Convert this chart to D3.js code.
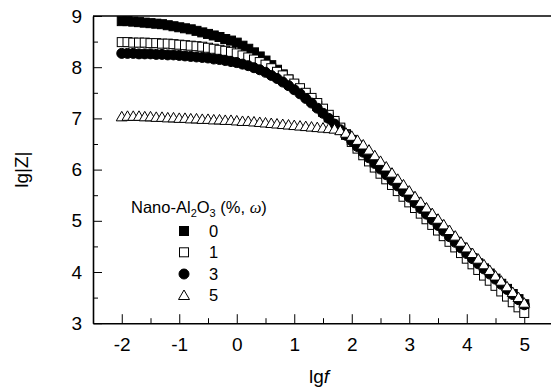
<!DOCTYPE html>
<html>
<head>
<meta charset="utf-8">
<script src="https://cdn.jsdelivr.net/npm/d3@7"></script>
<style>
  body { margin: 0; background: #fff; }
  text { font-family: "Liberation Sans", Arial, sans-serif; fill: #000; }
</style>
</head>
<body>
<div id="chart"></div>
<script>
"use strict";

// lg f values, shared by every series
const lgf = [
  -2.0, -1.9, -1.8, -1.7, -1.6, -1.5, -1.4, -1.3, -1.2, -1.1,
  -1.0, -0.9, -0.8, -0.7, -0.6, -0.5, -0.4, -0.3, -0.2, -0.1,
  0.0, 0.1, 0.2, 0.3, 0.4, 0.5, 0.6, 0.7, 0.8, 0.9,
  1.0, 1.1, 1.2, 1.3, 1.4, 1.5, 1.6, 1.7, 1.8, 1.9,
  2.0, 2.1, 2.2, 2.3, 2.4, 2.5, 2.6, 2.7, 2.8, 2.9,
  3.0, 3.1, 3.2, 3.3, 3.4, 3.5, 3.6, 3.7, 3.8, 3.9,
  4.0, 4.1, 4.2, 4.3, 4.4, 4.5, 4.6, 4.7, 4.8, 4.9,
  5.0
];

// lg|Z| for 0 % nano-Al2O3
const lgZ0 = [
  8.90, 8.90, 8.89, 8.88, 8.87, 8.86, 8.85, 8.84, 8.82, 8.80,
  8.78, 8.76, 8.74, 8.71, 8.68, 8.65, 8.62, 8.59, 8.55, 8.52,
  8.48, 8.42, 8.36, 8.29, 8.21, 8.13, 8.04, 7.95, 7.86, 7.76,
  7.66, 7.56, 7.46, 7.35, 7.24, 7.13, 7.02, 6.91, 6.80, 6.69,
  6.58, 6.47, 6.35, 6.24, 6.13, 6.02, 5.91, 5.80, 5.69, 5.58,
  5.47, 5.36, 5.25, 5.14, 5.03, 4.92, 4.81, 4.70, 4.59, 4.48,
  4.37, 4.27, 4.17, 4.07, 3.97, 3.87, 3.77, 3.67, 3.57, 3.47,
  3.37
];

// 1 %
const lgZ1 = [
  8.49, 8.49, 8.48, 8.48, 8.48, 8.47, 8.47, 8.46, 8.46, 8.45,
  8.44, 8.43, 8.42, 8.41, 8.40, 8.38, 8.36, 8.34, 8.32, 8.30,
  8.27, 8.23, 8.19, 8.15, 8.10, 8.05, 7.98, 7.91, 7.84, 7.76,
  7.68, 7.59, 7.50, 7.40, 7.30, 7.19, 7.07, 6.95, 6.82, 6.68,
  6.54, 6.41, 6.28, 6.16, 6.04, 5.92, 5.81, 5.70, 5.58, 5.47,
  5.36, 5.25, 5.14, 5.03, 4.92, 4.81, 4.70, 4.59, 4.48, 4.37,
  4.26, 4.15, 4.04, 3.93, 3.83, 3.73, 3.62, 3.52, 3.41, 3.31,
  3.20
];

// 3 %
const lgZ3 = [
  8.27, 8.27, 8.27, 8.26, 8.26, 8.26, 8.25, 8.25, 8.24, 8.24,
  8.23, 8.22, 8.21, 8.20, 8.19, 8.18, 8.16, 8.15, 8.13, 8.11,
  8.09, 8.06, 8.03, 7.99, 7.95, 7.90, 7.84, 7.78, 7.71, 7.64,
  7.56, 7.48, 7.39, 7.30, 7.20, 7.10, 7.00, 6.89, 6.78, 6.67,
  6.56, 6.45, 6.34, 6.23, 6.12, 6.01, 5.90, 5.79, 5.68, 5.57,
  5.46, 5.35, 5.24, 5.13, 5.02, 4.91, 4.80, 4.69, 4.58, 4.47,
  4.36, 4.26, 4.16, 4.06, 3.96, 3.86, 3.76, 3.66, 3.56, 3.46,
  3.36
];

// 5 %
const lgZ5 = [
  7.04, 7.05, 7.05, 7.05, 7.04, 7.04, 7.03, 7.03, 7.02, 7.02,
  7.01, 7.01, 7.00, 7.00, 6.99, 6.99, 6.98, 6.98, 6.97, 6.97,
  6.96, 6.95, 6.95, 6.94, 6.93, 6.92, 6.91, 6.90, 6.89, 6.88,
  6.87, 6.86, 6.85, 6.84, 6.83, 6.82, 6.81, 6.80, 6.77, 6.72,
  6.66, 6.58, 6.49, 6.39, 6.28, 6.17, 6.06, 5.94, 5.82, 5.71,
  5.59, 5.48, 5.37, 5.26, 5.15, 5.04, 4.93, 4.82, 4.71, 4.59,
  4.48, 4.37, 4.26, 4.15, 4.04, 3.93, 3.83, 3.72, 3.61, 3.51,
  3.40
];

const seriesNames = ["0", "1", "3", "5"];
const seriesValues = [lgZ0, lgZ1, lgZ3, lgZ5];
const seriesMarks = ["filledSquare", "openSquare", "filledCircle", "openTriangle"];

const xTicks = [-2, -1, 0, 1, 2, 3, 4, 5];
const xMinorTicks = [-1.5, -0.5, 0.5, 1.5, 2.5, 3.5, 4.5];
const yTicks = [3, 4, 5, 6, 7, 8, 9];
const yMinorTicks = [3.5, 4.5, 5.5, 6.5, 7.5, 8.5];

const svgWidth = 551;
const svgHeight = 391;
const plotLeft = 93;
const plotRight = 553;
const plotTop = 16;
const plotBottom = 323.2;

const svg = d3.select("#chart")
  .append("svg")
  .attr("width", svgWidth)
  .attr("height", svgHeight)
;

const xScale = d3.scaleLinear().domain([-2.5, 5.5]).range([plotLeft, plotRight]);
const yScale = d3.scaleLinear().domain([3, 9]).range([plotBottom, plotTop]);

// plain hyphen for negatives, like the original
const plainFormat = d => String(d);

// minor ticks first, major axes on top
svg.append("g")
  .attr("transform", `translate(0, ${plotBottom})`)
  .call(d3.axisBottom(xScale).tickValues(xMinorTicks).tickSizeInner(-5).tickSizeOuter(0).tickFormat(""))
  .call(g => g.select(".domain").remove())
;
svg.append("g")
  .attr("transform", `translate(${plotLeft}, 0)`)
  .call(d3.axisLeft(yScale).tickValues(yMinorTicks).tickSizeInner(-5).tickSizeOuter(0).tickFormat(""))
  .call(g => g.select(".domain").remove())
;

svg.append("g")
  .attr("transform", `translate(0, ${plotBottom})`)
  .call(d3.axisBottom(xScale).tickValues(xTicks).tickSizeInner(-9).tickSizeOuter(0).tickPadding(14).tickFormat(plainFormat))
;
svg.append("g")
  .attr("transform", `translate(${plotLeft}, 0)`)
  .call(d3.axisLeft(yScale).tickValues(yTicks).tickSizeInner(-9).tickSizeOuter(0).tickPadding(11).tickFormat(plainFormat))
;

svg.selectAll(".tick line").attr("stroke", "#000").attr("stroke-width", 1);
svg.selectAll(".domain").attr("stroke", "#000").attr("stroke-width", 1.6);
svg.selectAll(".tick text")
  .style("font-size", "19px")
  .style("font-family", "\"Liberation Sans\", Arial, sans-serif")
;

// top frame line
svg.append("line")
  .attr("x1", plotLeft)
  .attr("x2", plotRight)
  .attr("y1", yScale(9))
  .attr("y2", yScale(9))
  .attr("stroke", "#000")
  .attr("stroke-width", 1.6)
;

function drawMark(sel, kind) {
  if (kind === "filledSquare" || kind === "openSquare") {
    sel.append("rect")
      .attr("x", -4.5)
      .attr("y", -4.5)
      .attr("width", 9)
      .attr("height", 9)
      .attr("fill", kind === "filledSquare" ? "#000" : "#fff")
      .attr("stroke", "#000")
      .attr("stroke-width", 1)
    ;
  } else if (kind === "filledCircle") {
    sel.append("circle")
      .attr("r", 5)
      .attr("fill", "#000")
      .attr("stroke", "#000")
      .attr("stroke-width", 1)
    ;
  } else {
    sel.append("path")
      .attr("d", "M0,-5L5.5,4.5L-5.5,4.5Z")
      .attr("fill", "#fff")
      .attr("stroke", "#000")
      .attr("stroke-width", 1)
    ;
  }
}

seriesValues.forEach((values, s) => {
  svg.append("g")
    .selectAll("g")
    .data(values)
    .enter()
    .append("g")
    .attr("transform", (d, i) => `translate(${xScale(lgf[i])}, ${yScale(d)})`)
    .each(function() { drawMark(d3.select(this), seriesMarks[s]); })
  ;
});

// axis titles
svg.append("text")
  .attr("transform", `translate(28, ${(plotTop + plotBottom) / 2}) rotate(-90)`)
  .attr("text-anchor", "middle")
  .style("font-size", "19px")
  .text("lg|Z|")
;
const xTitle = svg.append("text")
  .attr("x", 319)
  .attr("y", 383)
  .attr("text-anchor", "middle")
  .style("font-size", "19px")
;
xTitle.append("tspan").text("lg");
xTitle.append("tspan").style("font-style", "italic").text("f");

// legend
const legend = svg.append("g");
const legendTitle = legend.append("text")
  .attr("x", 131)
  .attr("y", 213)
  .style("font-size", "16.5px")
;
legendTitle.append("tspan").text("Nano-Al");
legendTitle.append("tspan").attr("dy", 4).style("font-size", "11px").text("2");
legendTitle.append("tspan").attr("dy", -4).text("O");
legendTitle.append("tspan").attr("dy", 4).style("font-size", "11px").text("3");
legendTitle.append("tspan").attr("dy", -4).text(" (%, ");
legendTitle.append("tspan")
  .style("font-family", "\"Liberation Serif\", \"Times New Roman\", serif")
  .style("font-style", "italic")
  .text("ω")
;
legendTitle.append("tspan").text(")");

const legendRows = [231, 252.3, 274, 295];
seriesNames.forEach((name, s) => {
  const row = legend.append("g").attr("transform", `translate(184, ${legendRows[s]})`);
  drawMark(row, seriesMarks[s]);
  row.append("text")
    .attr("x", 25)
    .attr("y", 6)
    .style("font-size", "16.5px")
    .text(name)
  ;
});
</script>
</body>
</html>
